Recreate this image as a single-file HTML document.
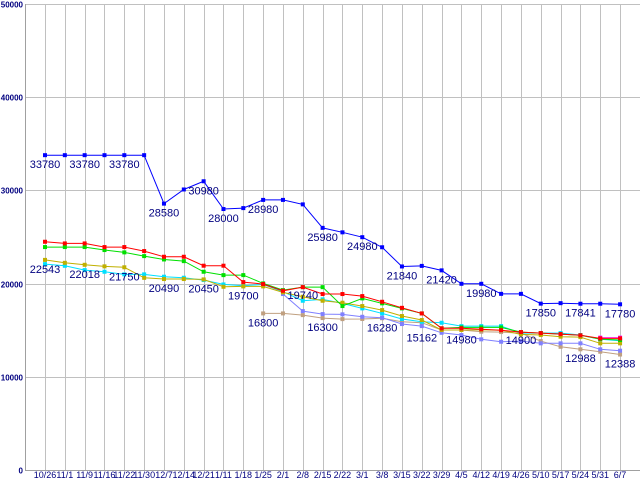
<!DOCTYPE html>
<html><head><meta charset="utf-8"><style>
html,body{margin:0;padding:0;background:#fff;}
svg{display:block;font-family:"Liberation Sans",sans-serif;}
</style></head><body>
<svg id="chart" width="640" height="480" viewBox="0 0 640 480" xmlns="http://www.w3.org/2000/svg">
<rect x="0" y="0" width="640" height="480" fill="#fff"/>
<g id="grid"></g>
<g id="axes"></g>
<g id="series"></g>
<g id="labels"></g>
</svg>
<script>
const categories = ["10/26","11/1","11/9","11/16","11/22","11/30","12/7","12/14","12/21","1/11","1/18","1/25","2/1","2/8","2/15","2/22","3/1","3/8","3/15","3/22","3/29","4/5","4/12","4/19","4/26","5/10","5/17","5/24","5/31","6/7"];
const yTicks = [0,10000,20000,30000,40000,50000];
const blueValues = [33780,33780,33780,33780,33780,33780,28580,30100,30980,28000,28100,28980,28980,28500,25980,25500,24980,23900,21840,21900,21420,19980,19980,18900,18900,17850,17900,17841,17841,17780];
const redValues = [24490,24310,24310,23920,23920,23490,22880,22880,21920,21920,20160,19950,19230,19620,18880,18880,18660,18050,17400,16800,15200,15200,15100,15000,14800,14690,14580,14450,14120,14120];
const greenValues = [23920,23920,23920,23600,23350,22950,22590,22410,21270,20910,20910,20020,19300,19620,19620,17590,18410,17880,17340,16800,15200,15300,15300,15300,14800,14690,14580,14450,14050,13950];
const oliveValues = [22543,22230,22018,21850,21750,20620,20490,20490,20450,19660,19700,19700,19060,18590,18160,17950,17590,17160,16520,16090,15020,15020,15050,15000,14550,14480,14300,14260,13590,13590];
const cyanValues = [22090,21910,21450,21270,20990,20990,20740,20630,20380,19910,19770,19910,19130,18160,18310,17880,17340,16800,16200,15900,15800,15440,15440,15440,14690,14700,14690,14480,14020,13870];
const lavenderValues = [null,null,null,null,null,null,null,null,null,null,null,null,18880,17050,16730,16700,16440,16340,15660,15440,14720,14480,14020,13760,13830,13590,13590,13590,12950,12800];
const tanValues = [null,null,null,null,null,null,null,null,null,null,null,16800,16800,16620,16300,16190,16200,16280,15900,15800,15020,15020,14840,14800,14690,13830,13220,12950,12690,12388];
const magentaValues = [null,null,null,null,null,null,null,null,null,null,null,null,null,null,null,null,null,null,null,null,null,null,null,null,null,null,null,null,14200,14200];
const labelIndex = [0,2,4,6,8,9,11,14,16,18,20,22,25,27,29, 0,2,4,6,8,10,11,13,14,17,19,21,24,27,29];
const labelValues = [33780,33780,33780,28580,30980,28000,28980,25980,24980,21840,21420,19980,17850,17841,17780, 22543,22018,21750,20490,20450,19700,16800,19740,16300,16280,15162,14980,14900,12988,12388];

const NS="http://www.w3.org/2000/svg";
const X0=45, DX=19.83, Y0=470, YTOP=4, YMAX=50000;
function xPos(i){return X0+i*DX;}
function yPos(v){return Y0-(v/YMAX)*(Y0-YTOP);}
function mk(tag,attrs,parent){const e=document.createElementNS(NS,tag);for(const k in attrs)e.setAttribute(k,attrs[k]);parent.appendChild(e);return e;}
const grid=document.getElementById('grid'),axes=document.getElementById('axes'),ser=document.getElementById('series'),lab=document.getElementById('labels');

yTicks.forEach(t=>{
  const y=Math.round(yPos(t))+0.5;
  const l=mk('line',{x1:25,x2:640,y1:y,y2:y,stroke:'#c0c0c0','stroke-width':1},grid);
  
  
  const tx=mk('text',{x:23,y:y+3,'text-anchor':'end','font-size':8,'font-weight':'bold',fill:'#000080'},axes);
  tx.textContent=t;
  
  
});
categories.forEach((c,i)=>{
  const x=Math.round(xPos(i))+0.5;
  const l=mk('line',{x1:x,x2:x,y1:YTOP,y2:Y0,stroke:'#c0c0c0','stroke-width':1},grid);
  
  
  const tx=mk('text',{x:xPos(i),y:478,'text-anchor':'middle','font-size':9,fill:'#000080'},axes);
  tx.textContent=c;
  
  
});
const ax=mk('path',{d:'M25.5 4 V470.5 H640',stroke:'#a0a0a0',fill:'none','stroke-width':1},axes);



function drawSeries(vals,color,name){
  const g=mk('g',{},ser);
  
  
  let d='';let pen=false;
  vals.forEach((v,i)=>{ if(v==null){pen=false;return;} d+=(pen?'L':'M')+xPos(i).toFixed(1)+' '+yPos(v).toFixed(1)+' '; pen=true;});
  mk('path',{d:d,stroke:color,fill:'none','stroke-width':1},g);
  vals.forEach((v,i)=>{ if(v==null)return;
    const r=mk('rect',{x:xPos(i)-2,y:yPos(v)-2,width:4,height:4,fill:color},g);
    
    
  });
}
drawSeries(tanValues,'#c0a080','tan-series');
drawSeries(lavenderValues,'#8080ff','lavender-series');
drawSeries(cyanValues,'#00e0ff','cyan-series');
drawSeries(oliveValues,'#c0b000','olive-series');
drawSeries(greenValues,'#00e000','green-series');
drawSeries(magentaValues,'#ff00ff','magenta-series');
drawSeries(redValues,'#ff0000','red-series');
drawSeries(blueValues,'#0000ff','blue-series');

labelValues.forEach((v,k)=>{
  const tx=mk('text',{x:xPos(labelIndex[k]),y:yPos(v)+13,'text-anchor':'middle','font-size':11,fill:'#000080'},lab);
  tx.textContent=v;
  
  
});
</script>
</body></html>
